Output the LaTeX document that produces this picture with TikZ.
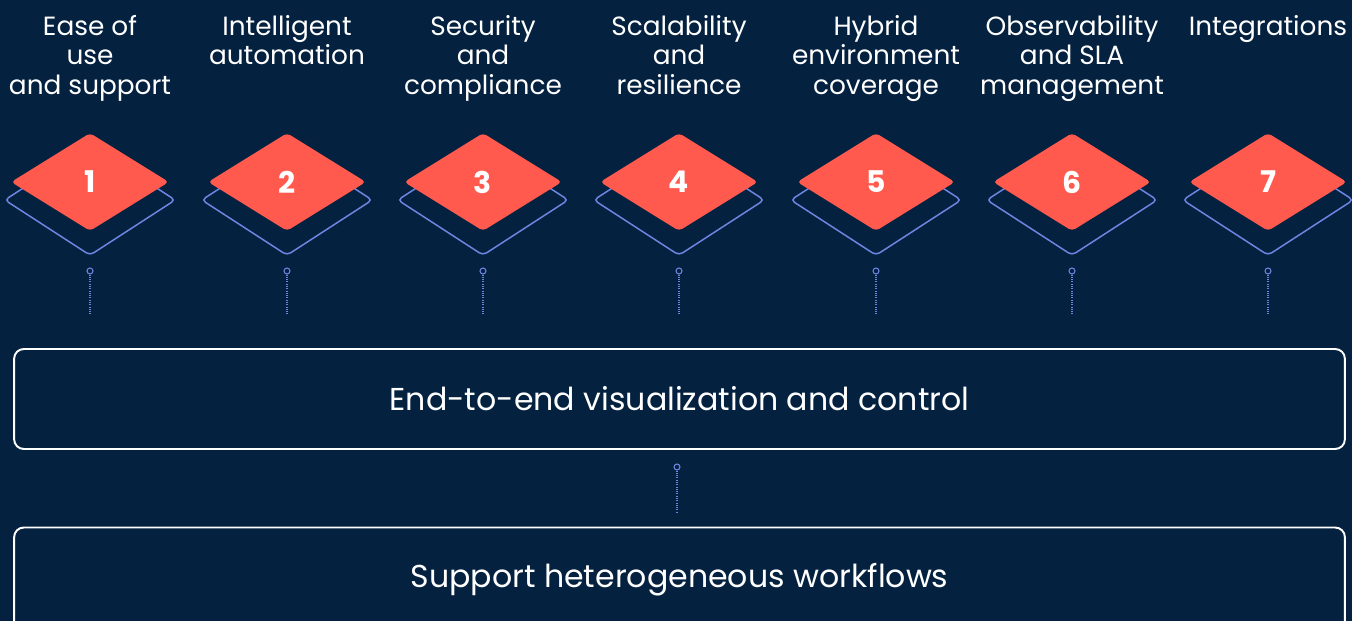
\documentclass[tikz,border=0pt]{standalone}
\usepackage{fontspec}
\setmainfont{Poppins}
\usetikzlibrary{shapes.geometric}
\definecolor{navybg}{RGB}{4,33,64}
\definecolor{tilered}{RGB}{255,90,77}
\definecolor{tileblue}{RGB}{108,134,226}
\tikzset{tile/.style={diamond,fill=tilered,text=white,inner sep=0pt,minimum width=3.16cm,minimum height=1.96cm,rounded corners=2.2pt,font=\fontsize{17}{20}\bfseries\selectfont},tile outline/.style={diamond,draw=tileblue,line width=0.85pt,inner sep=0pt,minimum width=3.42cm,minimum height=2.22cm,rounded corners=2.4pt},pin/.style={circle,draw=tileblue,line width=0.6pt,inner sep=0pt,minimum size=0.12cm},link/.style={draw=tileblue,line width=0.6pt,dash pattern=on 0.5pt off 0.8pt},heading/.style={text=white,align=center,anchor=north,inner sep=0pt,font=\fontsize{15}{16.8}\selectfont},panel/.style={draw=white,line width=1.1pt,rounded corners=5.5pt,text=white,minimum width=26.62cm,minimum height=2cm,font=\fontsize{18}{21}\selectfont}}

\begin{document}
\begin{tikzpicture}[x=0.02cm,y=-0.02cm]
    \useasboundingbox (0,0) rectangle (1352,621);
    \fill [navybg] (0,0) rectangle (1352,621);

    % columns
    \foreach \i/\x/\txt in {1/90/{Ease of\\use\\and support},2/287/{Intelligent\\automation},3/483/{Security\\and\\compliance},4/679/{Scalability\\and\\resilience},5/876/{Hybrid\\environment\\coverage},6/1072/{Observability\\and SLA\\management},7/1268/{Integrations}}
        {
        \node [heading] (head\i) at (\x,15) {\txt};
        \node [tile outline] (base\i) at (\x,200) {};
        \node [tile] (tile\i) at (\x,182) {\i};
        \node [pin] (pin\i) at (\x,271) {};
        \coordinate (end\i) at (\x,315);
        \draw [link] (pin\i) -- (end\i);
        }

    \node [panel] (control) at (679.5,399) {End-to-end visualization and control};
    \node [panel, minimum height=2.1cm] (workflows) at (679.5,580) {Support heterogeneous workflows};

    \node [pin] (midpin) at (677,467) {};
    \coordinate (midend) at (677,512);
    \draw [link] (midpin) -- (midend);
\end{tikzpicture}
\end{document}
